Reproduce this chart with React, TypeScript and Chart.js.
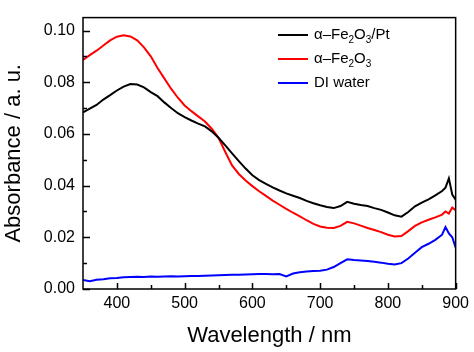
import React, { useEffect, useRef } from "react";
import { Chart, registerables } from "chart.js";

Chart.register(...registerables);

const FONT = "'Liberation Sans', Arial, sans-serif";

const wavelengths = [
  350, 360, 370, 380, 390, 400, 410, 420, 430, 440, 450, 460, 470, 480, 490,
  500, 510, 520, 530, 540, 550, 560, 570, 580, 590, 600, 610, 620, 630, 640,
  650, 660, 670, 680, 690, 700, 710, 720, 730, 740, 750, 760, 770, 780, 790,
  800, 810, 820, 830, 840, 850, 860, 870, 880, 885, 890, 895, 900,
];

const fe2o3PtValues = [
  0.0683, 0.0698, 0.0712, 0.0733, 0.075, 0.0768, 0.0783, 0.0793, 0.0791, 0.078,
  0.0762, 0.0746, 0.0722, 0.07, 0.068, 0.0665, 0.0652, 0.064, 0.0629, 0.061,
  0.0585, 0.0556, 0.0525, 0.0495, 0.0466, 0.044, 0.0421, 0.0407, 0.0393, 0.0381,
  0.037, 0.0361, 0.0352, 0.0341, 0.0332, 0.0324, 0.0317, 0.0313, 0.0321, 0.0337,
  0.033, 0.0325, 0.0321, 0.0313, 0.0306, 0.0296, 0.0285, 0.028, 0.0298, 0.032,
  0.0334, 0.0347, 0.0362, 0.0379, 0.0392, 0.0428, 0.0365, 0.0345,
];

const fe2o3Values = [
  0.0886, 0.0905, 0.0922, 0.0942, 0.0962, 0.0976, 0.0982, 0.0977, 0.0962, 0.0935,
  0.09, 0.0855, 0.0815, 0.0775, 0.074, 0.071, 0.0688, 0.0668, 0.0648, 0.062,
  0.0585, 0.053, 0.0478, 0.0445, 0.042, 0.0398, 0.0378, 0.036, 0.0342, 0.0326,
  0.031, 0.0295, 0.0281, 0.0266, 0.0252, 0.0242, 0.0237, 0.0236, 0.0244, 0.026,
  0.0254, 0.0245, 0.0236, 0.0228, 0.022, 0.021, 0.0203, 0.0205, 0.0224, 0.0244,
  0.0258, 0.0268, 0.0277, 0.0288, 0.03, 0.0292, 0.0315, 0.0305,
];

const waterValues = [
  0.0035, 0.003, 0.0036, 0.0038, 0.0042, 0.0043, 0.0045, 0.0046, 0.0047, 0.0046,
  0.0048, 0.0047, 0.0048, 0.0049, 0.0048, 0.0049, 0.005, 0.005, 0.0051, 0.0052,
  0.0053, 0.0054, 0.0055, 0.0055, 0.0056, 0.0057, 0.0058, 0.0058, 0.0057, 0.0058,
  0.0049, 0.006, 0.0065, 0.0068, 0.007, 0.0071, 0.0075, 0.0085, 0.01, 0.0115,
  0.0112, 0.011, 0.0108, 0.0105, 0.0102, 0.0098, 0.0095, 0.01, 0.0118, 0.014,
  0.0162, 0.0175, 0.019, 0.021, 0.024, 0.0215, 0.02, 0.016,
];

// legend labels; "_x" marks a subscript character
const seriesLabels = ["α–Fe_2O_3/Pt", "α–Fe_2O_3", "DI water"];
const seriesColors = ["#000000", "#ff0000", "#0000ff"];

const xTicks = [400, 500, 600, 700, 800, 900];
const xMinorTicks = [450, 550, 650, 750, 850];
const yTicks = [0, 0.02, 0.04, 0.06, 0.08, 0.1];
const yMinorTicks = [0.01, 0.03, 0.05, 0.07, 0.09];

const xTitle = "Wavelength / nm";
const yTitle = "Absorbance / a. u.";

function parseLabel(s: string) {
  const segs: { t: string; sub: boolean }[] = [];
  let buf = "";
  for (let i = 0; i < s.length; i++) {
    if (s[i] === "_" && i + 1 < s.length) {
      if (buf) segs.push({ t: buf, sub: false });
      buf = "";
      segs.push({ t: s[i + 1], sub: true });
      i++;
    } else buf += s[i];
  }
  if (buf) segs.push({ t: buf, sub: false });
  return segs;
}

const framePlugin = {
  id: "frameTicks",
  afterDraw(chart: any) {
    const { ctx, chartArea } = chart;
    const xs = chart.scales.x;
    const ys = chart.scales.y;
    ctx.save();
    ctx.strokeStyle = "#000";
    ctx.lineWidth = 1.5;
    ctx.strokeRect(chartArea.left, chartArea.top, chartArea.right - chartArea.left, chartArea.bottom - chartArea.top);
    ctx.beginPath();
    for (const v of xTicks) {
      const px = Math.round(xs.getPixelForValue(v)) + 0.5;
      ctx.moveTo(px, chartArea.bottom);
      ctx.lineTo(px, chartArea.bottom - 6);
    }
    for (const v of xMinorTicks) {
      const px = Math.round(xs.getPixelForValue(v)) + 0.5;
      ctx.moveTo(px, chartArea.bottom);
      ctx.lineTo(px, chartArea.bottom - 4);
    }
    for (const v of yTicks) {
      const py = Math.round(ys.getPixelForValue(v)) + 0.5;
      ctx.moveTo(chartArea.left, py);
      ctx.lineTo(chartArea.left + 7, py);
    }
    for (const v of yMinorTicks) {
      const py = Math.round(ys.getPixelForValue(v)) + 0.5;
      ctx.moveTo(chartArea.left, py);
      ctx.lineTo(chartArea.left + 4, py);
    }
    ctx.stroke();

    // legend
    const lx0 = 278;
    const lx1 = 308;
    const rows = [35, 59, 83];
    chart.data.datasets.forEach((ds: any, i: number) => {
      const y = rows[i];
      ctx.strokeStyle = ds.borderColor;
      ctx.lineWidth = 2;
      ctx.beginPath();
      ctx.moveTo(lx0, y);
      ctx.lineTo(lx1, y);
      ctx.stroke();
      let x = lx1 + 6;
      ctx.fillStyle = "#000";
      ctx.textBaseline = "middle";
      ctx.textAlign = "left";
      for (const seg of parseLabel(seriesLabels[i])) {
        if (seg.sub) {
          ctx.font = `10px ${FONT}`;
          ctx.fillText(seg.t, x, y + 5);
        } else {
          ctx.font = `15px ${FONT}`;
          ctx.fillText(seg.t, x, y);
        }
        x += ctx.measureText(seg.t).width;
      }
    });
    ctx.restore();
  },
};

export default function App() {
  const ref = useRef<HTMLCanvasElement | null>(null);
  useEffect(() => {
    if (!ref.current) return;
    const mk = (vals: number[]) => wavelengths.map((w, i) => ({ x: w, y: vals[i] }));
    const chart = new Chart(ref.current, {
      type: "line",
      data: {
        datasets: [
          { label: "α–Fe₂O₃/Pt", data: mk(fe2o3PtValues), borderColor: seriesColors[0], borderWidth: 2, pointRadius: 0, tension: 0 },
          { label: "α–Fe₂O₃", data: mk(fe2o3Values), borderColor: seriesColors[1], borderWidth: 2, pointRadius: 0, tension: 0 },
          { label: "DI water", data: mk(waterValues), borderColor: seriesColors[2], borderWidth: 2, pointRadius: 0, tension: 0 },
        ],
      },
      options: {
        animation: false,
        responsive: false,
        maintainAspectRatio: false,
        layout: { padding: { top: 4, right: 17, left: 0, bottom: 0 } },
        plugins: { legend: { display: false }, tooltip: { enabled: false } },
        scales: {
          x: {
            type: "linear",
            min: 350,
            max: 900,
            grid: { display: false, drawTicks: false },
            border: { display: false },
            afterBuildTicks: (s: any) => {
              s.ticks = xTicks.map((v) => ({ value: v }));
            },
            afterFit: (s: any) => {
              s.height = 63;
            },
            ticks: {
              padding: 5,
              maxRotation: 0,
              color: "#000",
              font: { family: FONT, size: 16 },
              callback: (v: any) => String(v),
            },
            title: {
              display: true,
              text: xTitle,
              color: "#000",
              font: { family: FONT, size: 22 },
              padding: { top: 0, bottom: 3 },
            },
          },
          y: {
            type: "linear",
            min: 0,
            max: 0.105,
            grid: { display: false, drawTicks: false },
            border: { display: false },
            afterBuildTicks: (s: any) => {
              s.ticks = yTicks.map((v) => ({ value: v }));
            },
            afterFit: (s: any) => {
              s.width = 83;
            },
            ticks: {
              padding: 8,
              color: "#000",
              font: { family: FONT, size: 16 },
              callback: (v: any) => Number(v).toFixed(2),
            },
            title: {
              display: true,
              text: yTitle,
              color: "#000",
              font: { family: FONT, size: 22 },
              padding: { top: 1, bottom: 0 },
            },
          },
        },
      },
      plugins: [framePlugin],
    } as any);
    return () => chart.destroy();
  }, []);
  return (
    <div style={{ position: "fixed", left: 0, top: 0, width: 474, height: 352, background: "#fff" }}>
      <canvas ref={ref} width={474} height={352} style={{ width: 474, height: 352, display: "block" }} />
    </div>
  );
}
